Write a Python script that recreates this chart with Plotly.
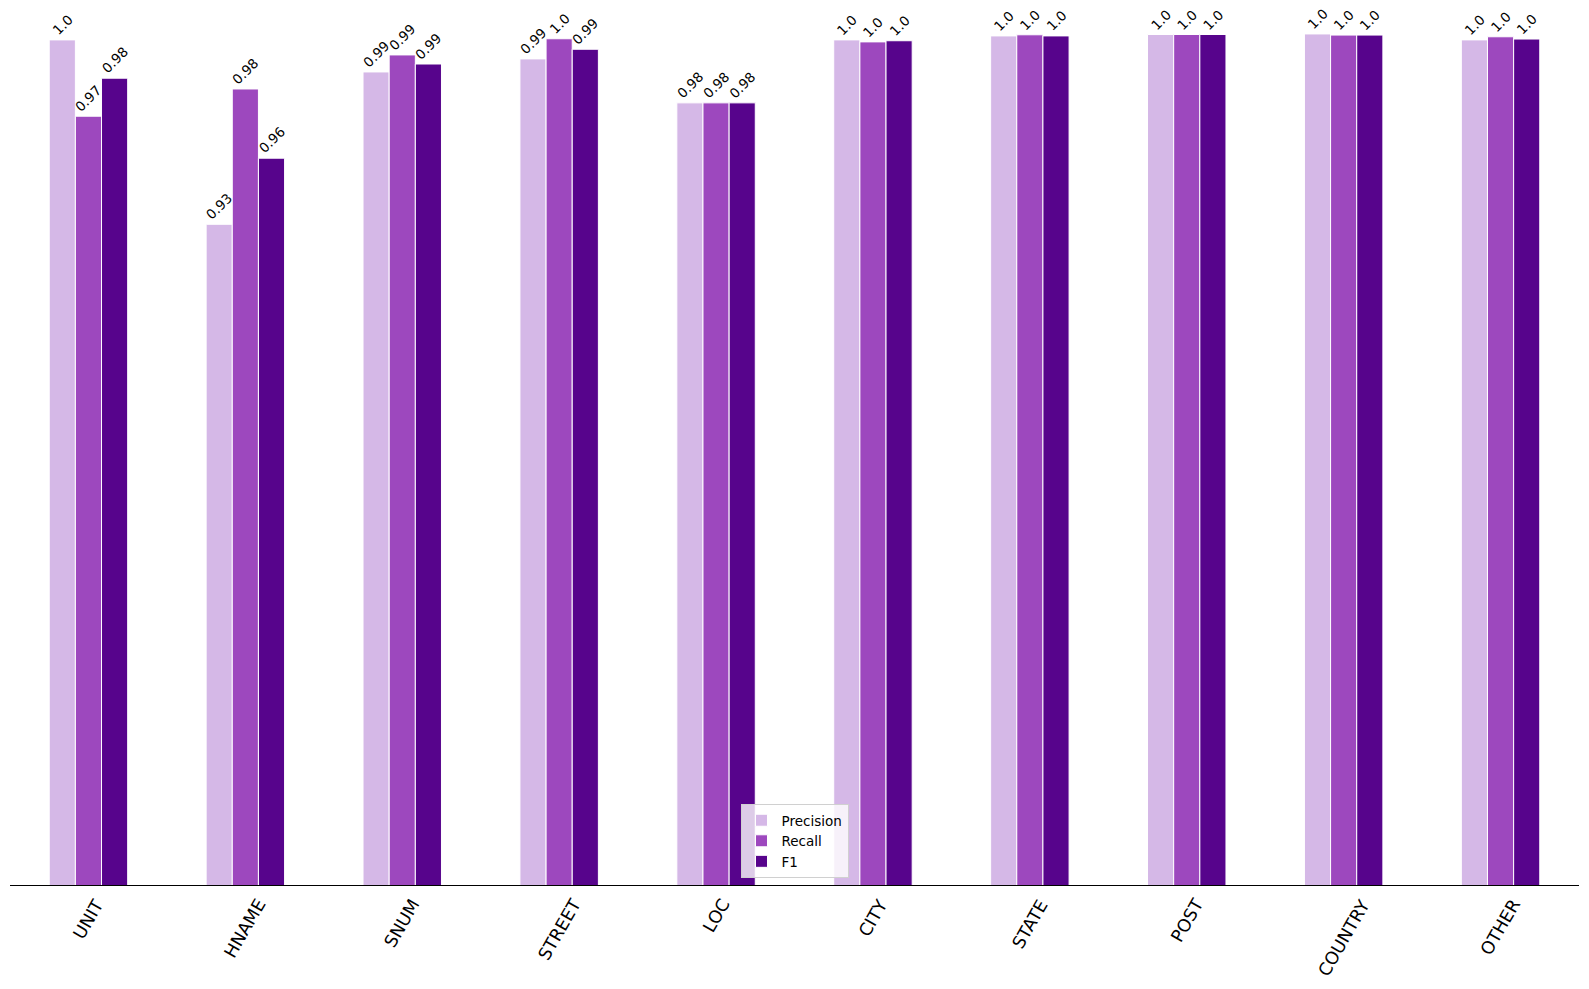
import plotly.graph_objects as go

categories = ['UNIT', 'HNAME', 'SNUM', 'STREET', 'LOC', 'CITY', 'STATE', 'POST', 'COUNTRY', 'OTHER']
precision = [0.9979, 0.9329, 0.9866, 0.9912, 0.9757, 0.9979, 0.9993, 0.9998, 1.0, 0.9979]
recall = [0.9710, 0.9806, 0.9926, 0.9983, 0.9757, 0.9972, 0.9997, 0.9998, 0.9996, 0.9990]
f1 = [0.9844, 0.9562, 0.9894, 0.9946, 0.9757, 0.9976, 0.9993, 0.9998, 0.9996, 0.9982]

series = [('Precision', precision, '#D5B8E7'),
          ('Recall', recall, '#9D48BE'),
          ('F1', f1, '#57048C')]

FONT = 'DejaVu Sans'
xs = list(range(len(categories)))

fig = go.Figure()
for name, vals, col in series:
    fig.add_trace(go.Bar(x=xs, y=vals, name=name, marker=dict(color=col, line=dict(color='white', width=1))))

annotations = []
# value labels above each bar, rotated like the original
bar_w = 0.5 / len(series)
for j, (name, vals, col) in enumerate(series):
    for i, v in enumerate(vals):
        annotations.append(dict(
            x=i + (j - 1) * bar_w, y=v, xref='x', yref='y',
            text=str(round(v, 2)), showarrow=False, textangle=-45,
            xanchor='center', yanchor='bottom', yshift=-1,
            font=dict(family=FONT, size=13.5, color='black')))

# category labels under the axis, centred on each group
for i, c in enumerate(categories):
    annotations.append(dict(
        x=i, y=0, xref='x', yref='paper', text=c, showarrow=False,
        textangle=-60, xanchor='center', yanchor='top', yshift=-8,
        font=dict(family=FONT, size=17.5, color='black')))

fig.update_layout(
    width=1589, height=989,
    barmode='group', bargap=0.5, bargroupgap=0,
    plot_bgcolor='white', paper_bgcolor='white',
    margin=dict(l=10, r=10, t=5, b=104),
    font=dict(family=FONT, color='black'),
    xaxis=dict(range=[-0.5, 9.5], showticklabels=False, ticks='', showgrid=False,
               zeroline=False, showline=True, linecolor='black', linewidth=1.3),
    yaxis=dict(range=[0.7, 1.0102], visible=False, showgrid=False),
    legend=dict(x=0.5, xanchor='center', y=0.008, yanchor='bottom',
                bgcolor='rgba(255,255,255,0.8)', bordercolor='#d0d0d0', borderwidth=1,
                font=dict(family=FONT, size=13.5, color='black')),
    annotations=annotations,
)

# page body has a default 8px margin, drop it so the figure fills the window
fig.write_html('out.html', config={'displayModeBar': False},
               post_script="document.body.style.margin='0';")
